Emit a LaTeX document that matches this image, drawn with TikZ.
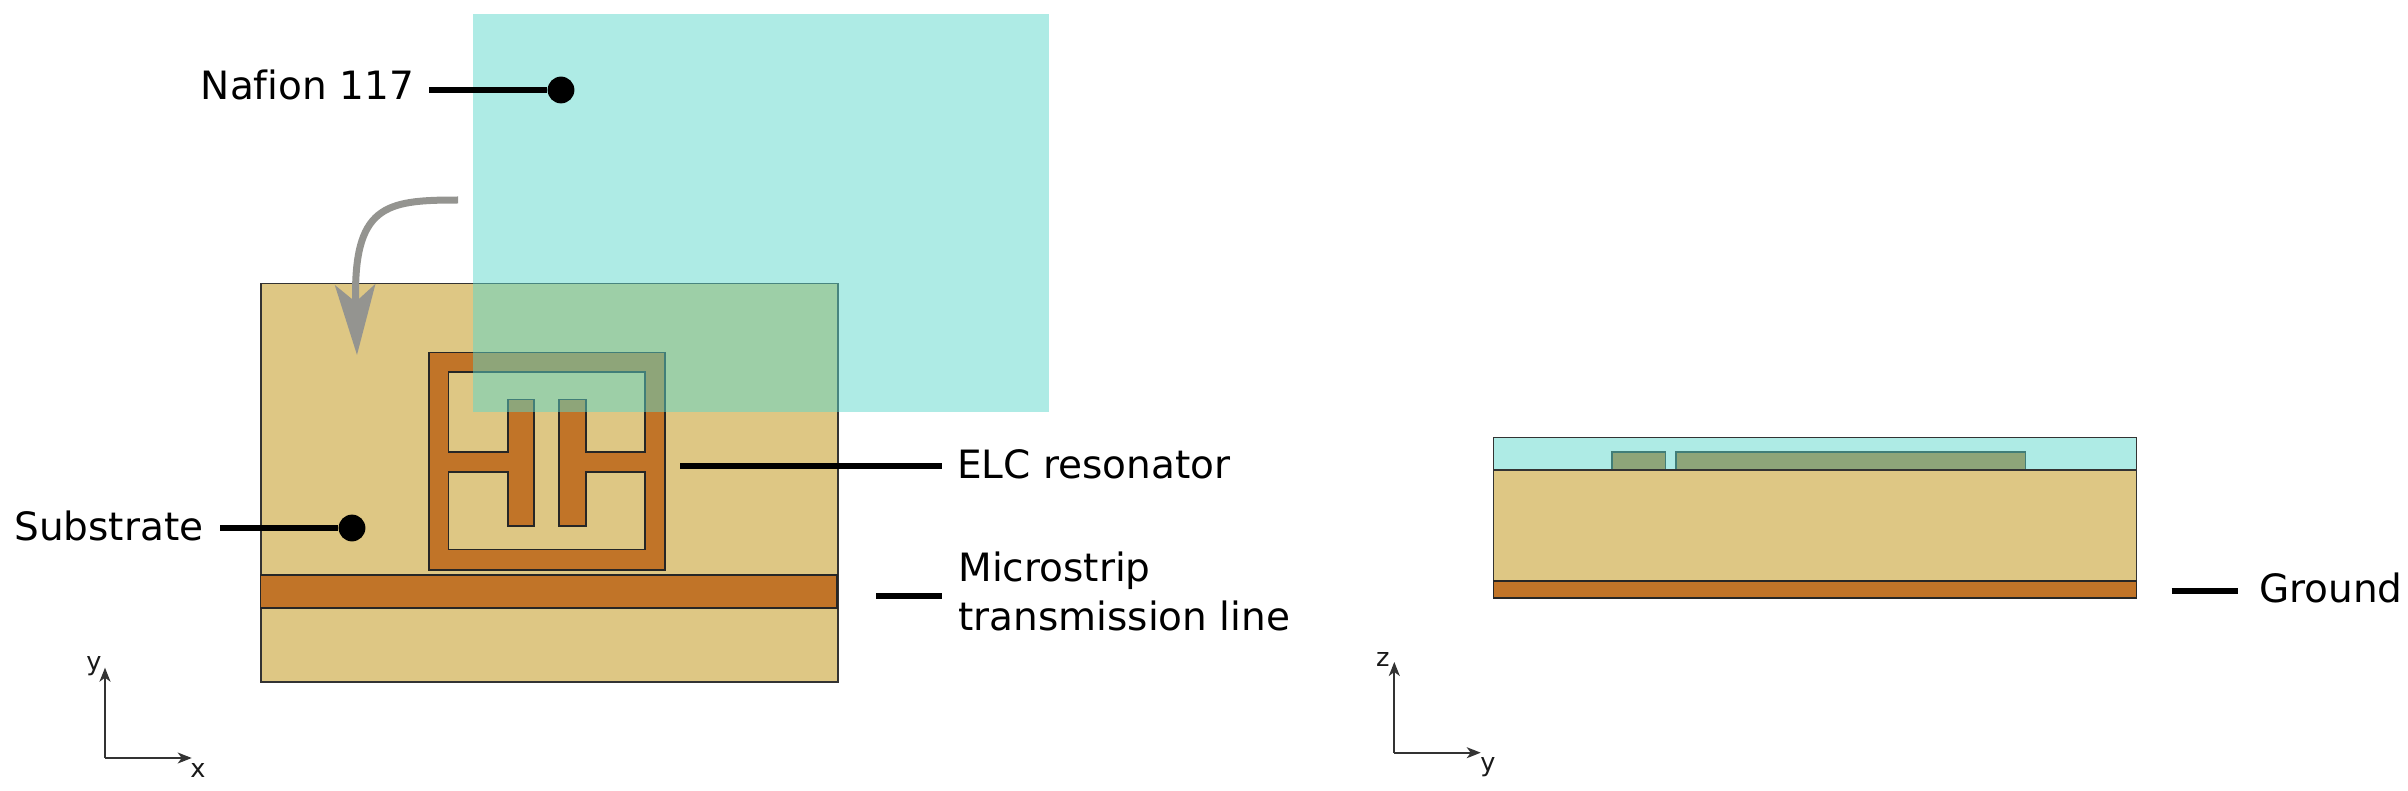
\documentclass[tikz,border=0pt]{standalone}
\usepackage{fontspec}
\setmainfont{DejaVu Sans}[Ligatures=NoCommon]
\usetikzlibrary{arrows.meta}
\definecolor{substrate}{HTML}{DEC784}
\definecolor{copper}{HTML}{C17428}
\definecolor{nafion}{HTML}{5DD7CB}
\definecolor{bend}{HTML}{949490}
\begin{document}
\begin{tikzpicture}[x=0.5pt,y=-0.5pt,
    sub/.style={draw=black!80,line width=0.9pt,fill=substrate},
    metal/.style={draw=black!85,line width=0.8pt,fill=copper},
    film/.style={fill=nafion,fill opacity=0.5},
    filmside/.style={film,draw=black!80,line width=0.8pt},
    leader/.style={draw=black,line width=3pt},
    dot/.style={circle,fill=black,inner sep=0pt,minimum size=13.4pt},
    label/.style={anchor=base west,inner sep=0pt,font=\fontsize{19.5}{24.15}\selectfont,align=left},
    axislabel/.style={inner sep=0pt,text=black!90,font=\fontsize{12.8}{15}\selectfont},
    axis/.style={draw=black!80,line width=0.9pt,-{Stealth[length=7pt,width=5.5pt,inset=2pt]}},
    bendarrow/.style={draw=bend,line width=3.5pt,-{Stealth[length=35pt,width=20pt,inset=8.5pt]}}]
\useasboundingbox (0,0) rectangle (2408,791);

% top view
\draw[sub] (260.6,283.5) rectangle (838,681.7);
\draw[metal] (260.6,575) rectangle (837,608);
\draw[metal,even odd rule] (429,352.3) rectangle (664.7,569.7)
    (448.4,372) -- (645,372) -- (645,452) -- (586,452) -- (586,399.3) -- (559,399.3)
    -- (559,525.7) -- (586,525.7) -- (586,471.7) -- (645,471.7) -- (645,549.3)
    -- (448.4,549.3) -- (448.4,471.7) -- (507.7,471.7) -- (507.7,525.7) -- (534.2,525.7)
    -- (534.2,399.3) -- (507.7,399.3) -- (507.7,452) -- (448.4,452) -- cycle;

\node[label] (elclabel) at (956.7,478.3) {ELC resonator};
\node[label] (striplabel) at (958,630) {Microstrip\\transmission line};
\node[label] (sublabel) at (14,540) {Substrate};
\node[dot] (subdot) at (352,528) {};
\coordinate (subend) at (220,528);
\coordinate (elcstart) at (680,466);
\coordinate (elcend) at (941.7,466);
\coordinate (stripstart) at (876,596);
\coordinate (stripend) at (941.7,596);
\draw[leader] (subend) -- (subdot);
\draw[leader] (elcstart) -- (elcend);
\draw[leader] (stripstart) -- (stripend);

\fill[film] (472.7,14) rectangle (1049,412);

\node[label] (naflabel) at (200.5,99.3) {Nafion 117};
\node[dot] (nafdot) at (561,90) {};
\coordinate (nafend) at (429,90);
\draw[leader] (nafend) -- (nafdot);

\coordinate (bendstart) at (458,200);
\coordinate (bendend) at (357,355);
\draw[bendarrow] (bendstart) .. controls (385,200) and (353,205) .. (bendend);

% side view
\draw[sub] (1493.5,470) rectangle (2136.5,580.7);
\draw[metal] (1493.5,580.7) rectangle (2136.5,597.7);
\draw[metal] (1611.8,452.2) rectangle (1665.4,470);
\draw[metal] (1676,452.2) rectangle (2025.6,470);
\draw[filmside] (1493.5,437.5) rectangle (2136.5,470);

\node[label] (groundlabel) at (2258.8,602.3) {Ground};
\coordinate (groundstart) at (2171.7,590.7);
\coordinate (groundend) at (2237.7,590.7);
\draw[leader] (groundstart) -- (groundend);

% axes
\coordinate (xyorigin) at (105,758);
\coordinate (xytop) at (105,667.7);
\coordinate (xyright) at (191.7,758);
\draw[axis] (xyorigin) -- (xytop);
\draw[axis] (xyorigin) -- (xyright);
\node[axislabel] (xylabely) at (94,666) {y};
\node[axislabel] (xylabelx) at (198,770) {x};

\coordinate (zyorigin) at (1394.3,752.7);
\coordinate (zytop) at (1394.3,662);
\coordinate (zyright) at (1480.7,752.7);
\draw[axis] (zyorigin) -- (zytop);
\draw[axis] (zyorigin) -- (zyright);
\node[axislabel] (zylabelz) at (1382.7,659) {z};
\node[axislabel] (zylabely) at (1488,766.7) {y};
\end{tikzpicture}
\end{document}
